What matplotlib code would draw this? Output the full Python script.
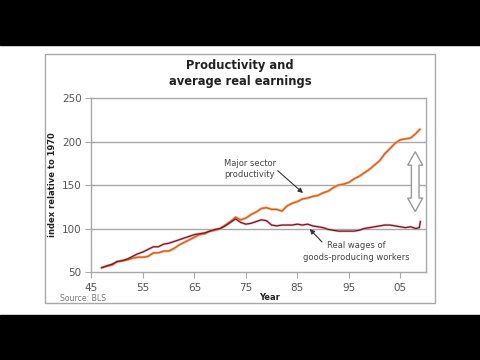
import matplotlib
matplotlib.use("Agg")
import matplotlib.pyplot as plt
from matplotlib.patches import Rectangle, Polygon

# values (index, 1970 = 100)
prod_years = [1947, 1948, 1949, 1950, 1951, 1952, 1953, 1954, 1955, 1956,
              1957, 1958, 1959, 1960, 1961, 1962, 1963, 1964, 1965, 1966,
              1967, 1968, 1969, 1970, 1971, 1972, 1973, 1974, 1975, 1976,
              1977, 1978, 1979, 1980, 1981, 1982, 1983, 1984, 1985, 1986,
              1987, 1988, 1989, 1990, 1991, 1992, 1993, 1994, 1995, 1996,
              1997, 1998, 1999, 2000, 2001, 2002, 2003, 2004, 2005, 2006,
              2007, 2008, 2008.8]
productivity = [55, 57, 58, 62, 63, 64, 66, 67, 67, 68,
                72, 72, 74, 74, 77, 81, 84, 87, 90, 93,
                94, 97, 98, 100, 104, 108, 113, 110, 112, 116,
                119, 123, 124, 122, 122, 120, 126, 129, 131, 134,
                135, 137, 138, 141, 143, 147, 150, 151, 153, 157,
                160, 164, 168, 173, 178, 186, 192, 198, 202, 203,
                204, 209, 214]

wage_years = [1947, 1948, 1949, 1950, 1951, 1952, 1953, 1954, 1955, 1956,
              1957, 1958, 1959, 1960, 1961, 1962, 1963, 1964, 1965, 1966,
              1967, 1968, 1969, 1970, 1971, 1972, 1973, 1974, 1975, 1976,
              1977, 1978, 1979, 1980, 1981, 1982, 1983, 1984, 1985, 1986,
              1987, 1988, 1989, 1990, 1991, 1992, 1993, 1994, 1995, 1996,
              1997, 1998, 1999, 2000, 2001, 2002, 2003, 2004, 2005, 2006,
              2007, 2008, 2008.7, 2008.9]
wages = [55, 57, 59, 62, 63, 65, 68, 71, 73, 76,
         79, 79, 82, 83, 85, 87, 89, 91, 93, 94,
         95, 97, 99, 100, 103, 107, 111, 107, 105, 106,
         108, 110, 109, 104, 103, 104, 104, 104, 105, 104,
         105, 103, 102, 101, 99, 98, 97, 97, 97, 97,
         98, 100, 101, 102, 103, 104, 104, 103, 102, 101,
         102, 100, 101, 108]

xticks = [1945, 1955, 1965, 1975, 1985, 1995, 2005]
xtick_labels = ["45", "55", "65", "75", "85", "95", "05"]
yticks = [50, 100, 150, 200, 250]

grey = "#a8a8a8"
text_grey = "#555555"

fig = plt.figure(figsize=(4.8, 3.6), dpi=100)
fig.patch.set_facecolor("white")

# letterbox bars and the chart frame, kept behind the axes
fig.patches.append(Rectangle((0, 0), 1, 0.125, transform=fig.transFigure,
                             color="black", zorder=-10))
fig.patches.append(Rectangle((0, 0.875), 1, 0.125, transform=fig.transFigure,
                             color="black", zorder=-10))
fig.patches.append(Rectangle((0.094, 0.158), 0.812, 0.692, transform=fig.transFigure,
                             facecolor="white", edgecolor=grey, lw=1, zorder=-10))

ax = fig.add_axes([0.1906, 0.2444, 0.6969, 0.4833])
ax.set_xlim(1945, 2010)
ax.set_ylim(50, 250)

for v in [100, 150, 200]:
    ax.axhline(v, color=grey, lw=1, zorder=1)

ax.plot(prod_years, productivity, color="#f6a468", lw=1.8, zorder=2)
ax.plot(prod_years, productivity, color="#d2581e", lw=0.8, zorder=3)
ax.plot(wage_years, wages, color="#e0888e", lw=1.8, alpha=0.6, zorder=2)
ax.plot(wage_years, wages, color="#741828", lw=0.9, zorder=3)

# hollow double arrow showing the gap
xc, y0, y1 = 2007.9, 119.5, 188.3
hw, sw, hl = 1.46, 0.74, 15.5
pts = [(xc, y1), (xc + hw, y1 - hl), (xc + sw, y1 - hl), (xc + sw, y0 + hl),
       (xc + hw, y0 + hl), (xc, y0), (xc - hw, y0 + hl), (xc - sw, y0 + hl),
       (xc - sw, y1 - hl), (xc - hw, y1 - hl)]
ax.add_patch(Polygon(pts, closed=True, facecolor="white", edgecolor="#999999",
                     lw=1, zorder=4))

ax.text(1975.8, 168.4, "Major sector\nproductivity", fontsize=6, color="#444444",
        ha="center", va="center", linespacing=1.3)
ax.annotate("", xy=(1986.1, 140.8), xytext=(1981.2, 166.4),
            arrowprops=dict(arrowstyle="-|>", color="#333333", lw=0.8,
                            mutation_scale=7, shrinkA=0, shrinkB=0))
ax.text(1996.5, 73.6, "Real wages of\ngoods-producing workers", fontsize=6,
        color="#444444", ha="center", va="center", linespacing=1.3)
ax.annotate("", xy=(1987.4, 99.4), xytext=(1989.8, 84.5),
            arrowprops=dict(arrowstyle="-|>", color="#333333", lw=0.8,
                            mutation_scale=7, shrinkA=0, shrinkB=0))

for s in ax.spines.values():
    s.set_color(grey)
    s.set_linewidth(1)

ax.set_xticks(xticks)
ax.set_xticklabels(xtick_labels)
ax.set_yticks(yticks)
ax.tick_params(axis="both", colors=grey, labelcolor=text_grey, labelsize=7.5,
               direction="out")
ax.tick_params(axis="x", length=4, pad=4)
ax.tick_params(axis="y", length=4, pad=3)

fig.text(0.5, 0.797, "Productivity and\naverage real earnings", fontsize=8.3,
         fontweight="bold", color="#222222", ha="center", va="center",
         linespacing=1.3)
fig.text(0.11, 0.486, "index relative to 1970", fontsize=6, fontweight="bold",
         color="#222222", rotation=90, ha="center", va="center")
fig.text(0.5625, 0.174, "Year", fontsize=6, fontweight="bold", color="#222222",
         ha="center", va="center")
fig.text(0.124, 0.171, "Source: BLS", fontsize=5.6, color="#777777",
         ha="left", va="center")

fig.savefig("out.png", dpi=100, facecolor=fig.get_facecolor())
